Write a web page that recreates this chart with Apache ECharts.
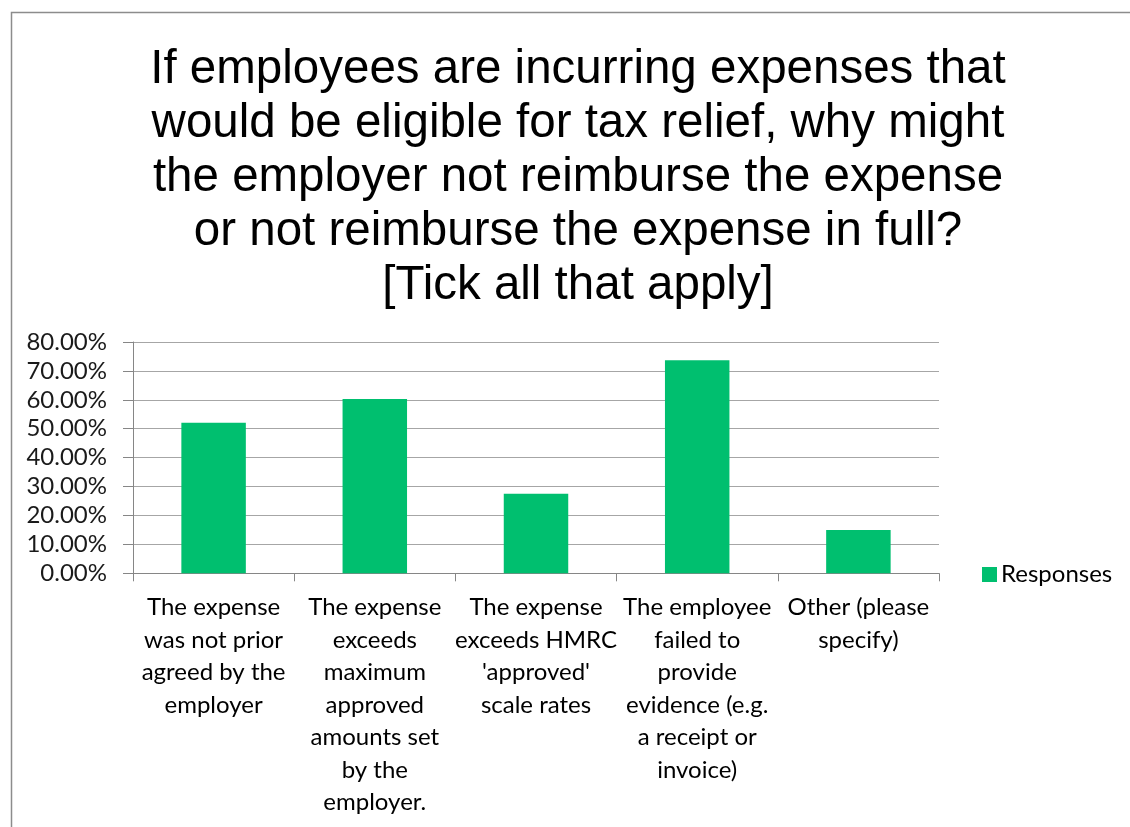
<!DOCTYPE html>
<html>
<head>
<meta charset="utf-8">
<script src="https://cdn.jsdelivr.net/npm/echarts@6/dist/echarts.min.js"></script>
<style>
  html, body { margin: 0; padding: 0; background: #ffffff; }
  #chart { width: 1130px; height: 827px; }
</style>
</head>
<body>
<div id="chart"></div>
<script>
// Survey question shown as the chart heading
const titleLines = [
  'If employees are incurring expenses that',
  'would be eligible for tax relief, why might',
  'the employer not reimburse the expense',
  'or not reimburse the expense in full?',
  '[Tick all that apply]'
];

// Answer options (line breaks as they appear under each bar)
const categories = [
  'The expense\nwas not prior\nagreed by the\nemployer',
  'The expense\nexceeds\nmaximum\napproved\namounts set\nby the\nemployer.',
  'The expense\nexceeds HMRC\n\'approved\'\nscale rates',
  'The employee\nfailed to\nprovide\nevidence (e.g.\na receipt or\ninvoice)',
  'Other (please\nspecify)'
];

// Share of respondents choosing each option, in percent
const responses = [52.1, 60.3, 27.5, 73.7, 15.0];

const seriesName = 'Responses';

// Value axis range and step, in percent
const yMin = 0;
const yMax = 80;
const yStep = 10;

const chart = echarts.init(document.getElementById('chart'), null, { renderer: 'canvas' });

const labelFont = 'Lato, "Open Sans", sans-serif';

chart.setOption({
  animation: false,
  backgroundColor: '#ffffff',
  title: {
    text: titleLines.join('\n'),
    left: 573,
    top: 38,
    textAlign: 'center',
    textStyle: {
      fontFamily: '"Liberation Sans", Arial, sans-serif',
      fontSize: 47.5,
      fontWeight: 'normal',
      color: '#000000',
      lineHeight: 54
    }
  },
  graphic: [{
    type: 'rect',
    silent: true,
    shape: { x: 11.5, y: 12.5, width: 1140, height: 900 },
    style: { fill: 'none', stroke: '#8c8c8c', lineWidth: 1.5 }
  }],
  legend: {
    data: [seriesName],
    left: 982,
    top: 558.5,
    padding: 0,
    icon: 'rect',
    itemWidth: 15,
    itemHeight: 15,
    itemGap: 6,
    textStyle: {
      fontFamily: labelFont,
      fontSize: 24,
      color: '#000000',
      lineHeight: 32,
      padding: [0, 0, 0, -1]
    }
  },
  grid: {
    left: 133,
    right: 191,
    top: 342,
    bottom: 253.7,
    containLabel: false
  },
  xAxis: {
    type: 'category',
    data: categories,
    axisLine: { show: true, lineStyle: { color: '#868686', width: 1 } },
    axisTick: { show: true, alignWithLabel: false, length: 8, lineStyle: { color: '#868686' } },
    splitLine: { show: false },
    axisLabel: {
      interval: 0,
      margin: 18,
      fontFamily: labelFont,
      fontSize: 24,
      color: '#000000',
      lineHeight: 32.5,
      verticalAlign: 'top',
      align: 'center'
    }
  },
  yAxis: {
    type: 'value',
    min: yMin,
    max: yMax,
    interval: yStep,
    axisLine: { show: true, lineStyle: { color: '#868686', width: 1 } },
    axisTick: { show: true, length: 10, lineStyle: { color: '#868686' } },
    splitLine: { show: true, lineStyle: { color: '#a6a6a6', width: 1 } },
    axisLabel: {
      margin: 26,
      fontFamily: labelFont,
      fontSize: 24,
      color: '#1a1a1a',
      formatter: v => v.toFixed(2) + '%'
    }
  },
  series: [{
    name: seriesName,
    type: 'bar',
    data: responses,
    barCategoryGap: '60%',
    itemStyle: { color: '#00BF6F' }
  }]
});
</script>
</body>
</html>
